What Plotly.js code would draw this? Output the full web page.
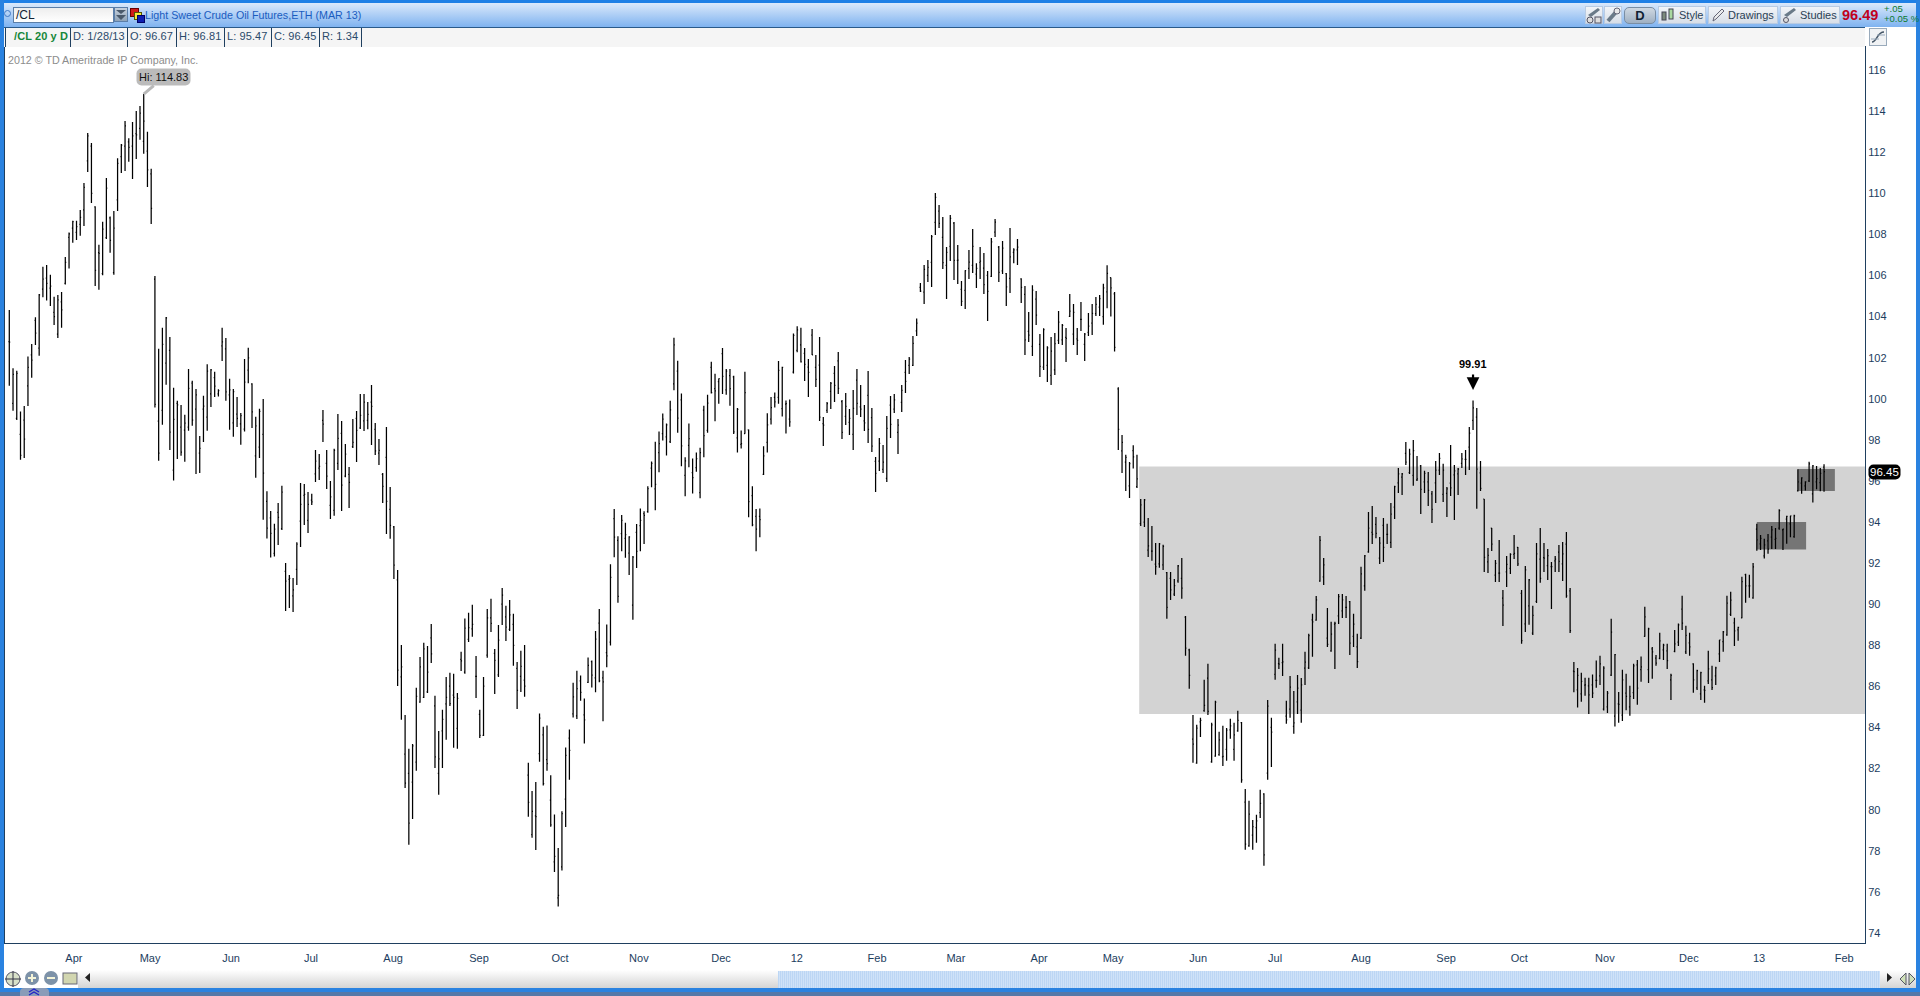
<!DOCTYPE html>
<html><head><meta charset="utf-8">
<script src="https://cdn.plot.ly/plotly-3.0.1.min.js"></script>
<style>
html,body{margin:0;padding:0;background:#fff;overflow:hidden;font-family:"Liberation Sans",Arial,sans-serif}
#chart{position:absolute;left:0;top:0;width:1920px;height:996px}
.c{position:absolute;white-space:nowrap;z-index:5}
.annotation rect.bg{rx:5px;ry:5px}
.cell{position:absolute;top:27px;height:19px;line-height:19px;font-size:11px;letter-spacing:0.1px;color:#2a4a6a;white-space:nowrap;z-index:5}
.btn{position:absolute;top:6px;height:18px;background:linear-gradient(#f4f6f9,#d6dde6);box-shadow:inset 0 0 0 1px #b9cbe2;z-index:5;font-size:11px;line-height:18px;color:#2a3f55}
</style></head><body>
<div id="chart"></div>
<!-- frame and toolbars -->
<div class="c" style="left:0;top:0;width:1920px;height:3px;background:#1f80e6"></div>
<div class="c" style="left:0;top:3px;width:1920px;height:24px;background:linear-gradient(#dbe9fb,#7fb3f0)"></div>
<div class="c" style="left:0;top:0;width:4px;height:992px;background:#2a82e0"></div>
<div class="c" style="left:1916px;top:0;width:4px;height:992px;background:#2a82e0"></div>
<div class="c" style="left:4px;top:27px;width:1861px;height:20px;background:#f5f5f5"></div>
<div class="c" style="left:5px;top:27px;width:1px;height:20px;background:#1f3f5f"></div>
<div class="c" style="left:4px;top:10px;width:5px;height:5px;border:1px solid #3f78c4;border-radius:50%"></div>
<div class="c" style="left:13px;top:7px;height:14px;border:1px solid #5b7ea8;background:linear-gradient(#eee,#fff);font-size:12px;line-height:14px;color:#123;padding-left:2px;box-sizing:content-box;width:97px">/CL</div>
<div class="c" style="left:114px;top:7px;width:14px;height:15px;background:linear-gradient(#c8d2de,#8fa3b8);border:1px solid #5b7ea8;box-sizing:border-box"></div>
<svg class="c" style="left:114px;top:8px" width="14" height="14"><path d="M2 2H12L7 6Z M2 7H12L7 12Z" fill="#4a5a6c"/></svg>
<div class="c" style="left:130px;top:8px;width:7px;height:7px;background:#d01818;border:1px solid #600"></div>
<div class="c" style="left:134px;top:12px;width:6px;height:6px;background:#f4e83a;border:1px solid #550"></div>
<div class="c" style="left:137px;top:15px;width:6px;height:6px;background:#1020b0;border:1px solid #006"></div>
<div class="c" style="left:145px;top:7px;font-size:10.7px;line-height:16px;color:#1a5cc0">Light Sweet Crude Oil Futures,ETH (MAR 13)</div>

<div class="cell" style="left:14px;font-weight:bold;color:#16873a">/CL 20 y D</div>
<div class="cell" style="left:73px">D: 1/28/13</div>
<div class="cell" style="left:130px">O: 96.67</div>
<div class="cell" style="left:179px">H: 96.81</div>
<div class="cell" style="left:227px">L: 95.47</div>
<div class="cell" style="left:274px">C: 96.45</div>
<div class="cell" style="left:322px">R: 1.34</div>
<div class="c" style="left:70px;top:27px;width:1px;height:20px;background:#1f3f5f"></div>
<div class="c" style="left:127px;top:27px;width:1px;height:20px;background:#1f3f5f"></div>
<div class="c" style="left:176px;top:27px;width:1px;height:20px;background:#1f3f5f"></div>
<div class="c" style="left:224px;top:27px;width:1px;height:20px;background:#1f3f5f"></div>
<div class="c" style="left:271px;top:27px;width:1px;height:20px;background:#1f3f5f"></div>
<div class="c" style="left:319px;top:27px;width:1px;height:20px;background:#1f3f5f"></div>
<div class="c" style="left:361px;top:27px;width:1px;height:20px;background:#1f3f5f"></div>
<div class="c" style="left:4px;top:27px;width:1861px;height:1px;background:#2a5a8a"></div>

<div class="btn" style="left:1585px;width:18px"></div>
<svg class="c" style="left:1585px;top:6px" width="18" height="18"><path d="M3 9L13 2L15 4L6 11Z" fill="#6a7a88"/><circle cx="5" cy="14" r="3" fill="#ddd" stroke="#556"/><rect x="10" y="11" width="6" height="6" fill="#ddd" stroke="#556"/></svg>
<div class="btn" style="left:1604px;width:18px"></div>
<svg class="c" style="left:1604px;top:6px" width="18" height="18"><path d="M4 15L12 6" stroke="#6a7a88" stroke-width="4"/><circle cx="13" cy="5" r="3" fill="#e8e8e8" stroke="#667"/></svg>
<div class="c" style="left:1624px;top:7px;height:15px;border-radius:5px;background:linear-gradient(#cfd8e2,#9fb0c2);border:1px solid #7a8ea4;text-align:center;font-size:13px;font-weight:bold;line-height:15px;color:#123;box-sizing:content-box;width:30px">D</div>
<div class="btn" style="left:1658px;width:48px;padding-left:21px;box-sizing:border-box">Style</div>
<svg class="c" style="left:1660px;top:7px" width="16" height="16"><rect x="2" y="5" width="4" height="8" fill="#7c8a7c" stroke="#445"/><rect x="9" y="2" width="4" height="10" fill="#a9d8a0" stroke="#445"/></svg>
<div class="btn" style="left:1708px;width:70px;padding-left:20px;box-sizing:border-box">Drawings</div>
<svg class="c" style="left:1710px;top:7px" width="16" height="16"><path d="M3 14L4 10L12 2L14 4L6 12Z" fill="#e8eaec" stroke="#667"/></svg>
<div class="btn" style="left:1780px;width:60px;padding-left:20px;box-sizing:border-box">Studies</div>
<svg class="c" style="left:1782px;top:7px" width="16" height="16"><path d="M2 8L12 1L14 3L5 10Z" fill="#6a7a88"/><circle cx="4" cy="13" r="2.5" fill="#ddd" stroke="#556"/></svg>
<div class="c" style="left:1842px;top:6px;font-size:14.5px;line-height:18px;font-weight:bold;color:#c00020">96.49</div>
<div class="c" style="left:1884px;top:4px;font-size:9.5px;line-height:10px;color:#0c7a30">+.05</div>
<div class="c" style="left:1884px;top:14px;font-size:9.5px;line-height:10px;color:#0c7a30">+0.05 %</div>

<div class="c" style="left:1869px;top:28px;width:16px;height:16px;border:1px solid #9ab;background:#f0f2f4"></div>
<svg class="c" style="left:1869px;top:28px" width="18" height="18"><path d="M3 14C8 14 8 4 15 4" fill="none" stroke="#456" stroke-width="1.5"/><path d="M2 11H10M8 7H16" stroke="#9ab"/></svg>

<!-- bottom bar -->
<div class="c" style="left:4px;top:970px;width:1912px;height:18px;background:linear-gradient(#fff,#d4d4d4)"></div>
<div class="c" style="left:778px;top:971px;width:1102px;height:17px;background:repeating-linear-gradient(90deg,#bcd6f4 0 1px,#cfe2f8 1px 2px)"></div>
<div class="c" style="left:4px;top:970px;width:74px;height:18px;background:#fff"></div>
<svg class="c" style="left:4px;top:970px" width="76" height="18"><circle cx="9" cy="9" r="7" fill="#d8e0c8" stroke="#556"/><path d="M9 1V17M1 9H17" stroke="#334"/><circle cx="28" cy="8" r="7" fill="#7d92a8"/><path d="M24 8H32M28 4V12" stroke="#f4f4d8" stroke-width="2"/><circle cx="47" cy="8" r="7" fill="#7d92a8"/><path d="M43 8H51" stroke="#f4f4d8" stroke-width="2"/><rect x="59" y="3" width="14" height="11" fill="#d2d6b0" stroke="#667"/></svg>
<svg class="c" style="left:82px;top:972px" width="12" height="12"><path d="M8 1V10L3 5.5Z" fill="#222"/></svg>
<svg class="c" style="left:1884px;top:972px" width="12" height="12"><path d="M3 1V10L8 5.5Z" fill="#222"/></svg>
<svg class="c" style="left:1899px;top:970px" width="17" height="18"><path d="M7 3V15L1 9ZM10 3V15L16 9Z" fill="#cfe0b8" stroke="#556"/></svg>
<div class="c" style="left:0;top:988px;width:1920px;height:4px;background:#2a82e0"></div>
<div class="c" style="left:0;top:992px;width:1920px;height:4px;background:#5578a8"></div>
<div class="c" style="left:20px;top:988px;width:29px;height:8px;background:#8a9cb8;border-radius:4px 4px 0 0"></div>
<svg class="c" style="left:28px;top:988px" width="12" height="8"><path d="M1 4L6 1L11 4M1 7L6 4L11 7" fill="none" stroke="#2222c8" stroke-width="1.3"/></svg>
<script>
const tickPos=[17.3,37.7,59.4,80.8,102.8,125.8,147.5,168.6,190.6,210.9,232.4,253.5,275.8,295.6,318.4,339,362,384.8,404.4,427.3,449.8,468.6,491.4];
const tickText=["Apr","May","Jun","Jul","Aug","Sep","Oct","Nov","Dec","12","Feb","Mar","Apr","May","Jun","Jul","Aug","Sep","Oct","Nov","Dec","13","Feb"];
const opens=[102.78,99.78,99.04,98.27,98.96,100.63,102.14,103.81,102.46,105.33,105.87,105.38,104.21,103.14,104.71,105.61,107.86,108.30,108.10,108.49,109.19,111.58,112.30,109.34,107.11,106.09,107.84,108.80,106.14,109.68,111.79,112.30,112.50,112.29,112.90,113.16,112.53,112.05,110.94,105.82,98.91,99.44,101.73,102.36,96.52,99.78,98.62,98.47,98.62,100.76,99.49,97.35,99.49,99.10,100.24,101.03,100.24,102.57,102.43,100.19,98.83,99.25,98.78,98.52,101.39,100.72,97.22,97.64,98.27,95.0,
94.2,92.48,94.47,93.68,91.60,91.21,90.40,91.70,94.04,95.30,94.08,95.06,96.34,96.62,98.95,96.86,94.81,94.57,96.86,98.32,96.23,96.32,97.67,99.05,98.58,98.92,98.95,99.83,98.51,97.35,96.32,97.15,94.62,93.76,91.18,86.46,82.70,81.77,81.34,82.31,85.23,85.47,85.73,88.36,85.05,81.77,83.83,85.15,86.01,85.57,83.96,87.32,86.70,88.29,88.80,86.49,84.64,83.62,87.52,89.33,87.61,86.56,90.00,89.38,88.78,89.02,86.88,86.49,86.30,81.68,78.79,79.70,
82.73,83.64,82.44,80.47,77.46,75.71,77.22,80.51,83.48,84.66,84.56,86.27,84.61,86.20,87.20,86.42,89.08,86.42,87.64,88.15,94.17,93.11,93.44,93.20,92.49,89.96,93.50,93.82,94.41,94.50,96.62,95.61,97.38,98.30,98.15,97.91,100.72,101.34,99.94,96.27,97.73,96.40,96.65,95.43,99.45,98.46,101.53,100.49,100.83,102.20,100.43,101.12,101.07,98.10,97.78,98.30,98.48,95.28,94.28,94.28,96.32,97.88,99.01,100.07,100.07,99.52,99.74,99.01,101.29,102.35,102.62,
102.21,101.54,103.10,101.53,101.64,98.79,99.44,100.36,101.24,101.84,99.86,99.14,98.85,98.27,100.91,99.60,98.92,100.17,99.08,96.95,96.97,96.56,96.13,99.69,99.50,98.36,99.82,101.28,101.63,101.63,103.30,105.42,105.19,106.00,106.64,108.58,109.13,107.85,106.49,107.42,108.55,106.73,105.32,105.27,106.35,106.49,106.07,106.64,106.36,106.00,105.96,108.11,107.38,106.22,106.09,105.86,107.12,107.24,105.83,105.08,103.28,102.55,104.85,102.65,101.54,101.63,101.14,101.40,102.84,102.87,102.99,104.01,103.15,102.91,103.86,102.65,103.23,103.68,104.14,104.46,
104.0,105.2,105.9,105.1,
100.48,97.46,96.92,95.76,97.48,95.72,93.92,94.00,92.63,92.58,91.95,91.96,91.91,91.54,91.26,90.49,91.13,91.26,89.37,87.78,83.43,82.26,84.27,84.82,86.40,82.33,82.60,82.68,82.57,82.94,83.88,82.94,83.84,84.24,80.37,78.24,78.76,79.12,79.86,80.77,81.78,84.01,86.59,87.11,87.16,84.55,84.89,84.05,85.25,84.84,86.89,86.90,89.24,89.22,91.12,91.33,88.35,87.73,89.03,89.43,89.67,89.85,90.13,88.44,87.92,88.35,90.89,92.55,
93.50,93.89,92.24,93.84,93.40,93.01,94.72,95.90,96.18,97.34,96.40,96.27,96.05,96.73,95.95,95.95,95.37,95.90,96.53,95.35,95.40,95.89,96.29,96.34,96.86,97.05,97.64,98.95,99.10,96.39,95.11,92.06,93.70,91.41,91.51,90.29,91.57,91.75,92.43,92.77,90.53,89.04,89.92,88.59,90.14,92.20,92.27,91.88,91.83,92.11,92.53,91.96,92.92,90.65,
86.74,85.83,85.64,86.06,86.03,86.07,86.29,86.51,84.89,85.00,86.55,84.55,85.15,84.60,85.67,85.00,85.70,87.05,86.81,88.44,86.81,87.83,87.37,87.36,87.78,87.73,86.32,87.71,88.15,89.76,87.68,88.12,87.10,85.93,85.64,85.83,86.27,86.32,86.51,87.58,88.18,88.51,89.51,89.09,88.75,89.34,91.44,90.89,90.31,93.65,92.94,92.35,93.08,93.26,93.16,93.70,93.62,94.14,93.91,93.29,95.51,95.89,95.76,96.00,95.37,95.95,95.92,96.67];
const highs=[104.32,101.49,101.36,99.38,99.65,102.05,102.67,103.97,105.10,106.43,106.51,106.03,104.97,105.05,105.20,106.90,108.09,108.66,108.66,109.19,110.50,112.94,112.45,109.37,107.49,108.61,110.75,108.87,109.14,111.70,112.40,113.52,112.68,113.47,114.01,114.25,114.83,112.99,111.19,105.98,102.43,103.45,103.98,103.01,100.53,99.90,99.70,99.22,101.45,100.87,100.48,98.19,100.14,101.68,101.45,101.31,100.46,103.45,102.96,100.97,100.48,100.09,99.31,101.94,102.48,100.76,99.12,99.51,99.99,95.5,
94.54,93.91,94.93,95.76,92.01,91.42,91.28,93.01,95.90,95.85,95.46,95.37,97.51,97.31,99.45,97.51,96.00,97.56,99.26,98.92,97.80,96.68,99.02,99.40,100.23,100.23,99.84,100.67,98.82,98.04,96.39,98.63,95.71,93.81,91.67,88.02,84.61,82.96,83.20,85.93,87.43,88.12,87.97,89.04,85.54,83.83,84.86,86.46,86.66,86.61,85.68,87.68,89.30,89.58,89.97,87.48,84.86,86.46,89.77,90.26,87.82,88.99,90.79,89.92,90.21,89.53,87.19,87.73,88.02,82.28,80.91,81.35,
84.68,84.03,84.10,81.67,79.77,78.13,79.92,83.02,83.90,86.18,86.76,86.53,85.41,87.40,87.26,88.70,89.77,86.76,89.01,91.95,94.63,93.31,94.34,93.97,93.31,92.35,93.90,94.66,94.52,95.74,96.95,97.91,98.40,99.28,98.79,99.90,102.97,101.85,100.25,97.15,98.79,97.09,97.38,97.62,99.66,100.19,101.80,101.22,100.98,102.47,101.45,101.45,101.12,99.55,98.46,101.31,98.50,95.74,94.63,94.66,97.69,99.30,100.08,100.30,101.84,101.56,99.92,99.96,103.17,103.53,103.45,
102.47,101.93,103.39,102.13,103.00,99.11,99.84,100.81,101.59,102.27,99.94,100.28,99.50,100.42,101.45,100.67,99.69,101.35,99.55,97.16,98.09,97.75,99.16,100.13,100.23,99.01,100.67,101.88,102.03,103.05,103.91,105.63,106.51,106.75,107.97,110.01,109.43,108.84,107.38,108.94,108.60,107.48,105.73,106.26,107.24,108.26,106.60,107.38,107.09,106.22,107.82,108.75,107.43,107.68,106.12,108.31,107.33,107.77,105.87,105.49,104.22,105.53,105.24,103.15,103.43,102.55,103.00,103.20,104.27,103.64,103.44,105.10,104.61,103.44,104.71,103.20,104.17,104.61,104.95,105.05,
105.6,106.5,105.9,105.2,
100.56,98.24,97.27,96.92,97.74,97.27,95.12,95.12,94.20,93.81,92.98,92.98,92.89,91.57,91.57,91.23,91.91,92.25,89.43,87.83,84.61,84.13,84.47,86.32,87.10,84.23,85.30,83.79,84.08,83.98,84.42,84.23,84.81,84.27,81.01,80.43,79.50,79.75,80.97,80.80,85.34,84.47,88.07,87.39,88.07,85.30,86.51,85.78,86.56,86.41,87.68,88.56,89.53,90.40,93.32,92.25,89.82,89.14,89.14,90.50,90.50,90.40,90.16,89.53,88.56,91.82,92.40,94.49,
94.78,94.25,93.27,94.20,93.91,94.93,95.76,96.63,96.39,97.90,97.56,97.99,97.21,96.78,96.49,96.44,95.51,96.97,97.36,96.83,95.71,97.75,96.78,96.63,97.36,97.51,98.63,99.91,99.55,96.97,95.12,92.74,93.71,92.15,93.13,90.69,92.35,92.48,93.37,92.79,90.69,91.86,91.23,89.92,92.98,93.71,92.98,92.69,92.06,92.35,92.88,93.03,93.52,90.79,
87.19,86.89,86.66,86.42,86.42,86.58,87.26,87.49,86.98,85.77,89.29,87.58,85.73,86.81,86.61,86.03,87.10,87.29,87.45,89.87,88.85,87.92,87.53,88.61,88.07,88.07,86.61,88.75,89.06,90.41,88.95,88.61,87.13,86.81,86.71,86.03,87.73,87.00,86.95,88.26,88.70,90.41,90.60,89.34,88.90,91.33,91.48,91.43,92.01,93.91,93.37,93.18,93.42,93.81,93.71,94.62,93.67,94.30,94.30,94.35,96.57,96.18,95.99,96.93,96.78,96.73,96.63,96.81];
const lows=[100.63,99.41,98.97,97.03,97.12,99.65,101.02,102.62,102.09,104.94,104.78,104.52,103.59,102.96,103.45,105.56,106.34,107.59,107.73,107.93,108.41,111.04,109.53,105.49,105.30,106.01,107.78,107.10,106.03,109.14,110.99,111.09,111.53,110.70,111.67,112.60,111.92,110.31,108.51,99.57,96.98,98.73,100.68,97.51,96.02,97.07,97.22,96.93,98.44,98.68,96.34,96.39,97.90,98.44,99.60,100.09,100.11,101.84,99.90,98.49,98.15,98.63,97.76,98.40,100.76,98.58,96.15,97.12,94.11,93.2,
92.27,92.32,92.88,93.61,89.67,89.82,89.62,90.94,92.79,93.86,93.47,94.83,95.95,96.05,97.90,95.61,94.15,94.30,96.53,94.54,96.18,94.68,97.60,96.92,98.53,98.43,98.51,97.75,97.26,96.78,94.93,93.42,93.18,91.23,86.02,84.37,81.06,78.29,79.55,81.89,85.20,85.44,85.68,87.14,82.03,80.72,82.03,83.40,85.05,83.01,82.96,86.75,86.61,88.16,88.41,85.44,83.49,83.59,87.39,88.65,85.63,86.46,88.99,88.21,88.70,87.00,84.90,85.73,85.49,79.65,78.63,78.04,
82.33,81.18,81.89,79.17,76.96,75.29,77.04,79.15,81.45,84.48,84.41,85.30,83.22,86.16,85.94,85.72,86.20,84.30,86.93,87.99,92.29,90.07,92.58,92.26,91.42,89.24,91.76,92.58,92.93,94.45,95.69,94.57,96.42,97.97,97.24,97.84,100.41,98.35,96.71,95.25,96.67,95.39,96.45,95.16,97.15,98.35,100.25,98.90,99.76,100.23,100.19,99.66,98.28,97.38,97.58,98.30,94.23,93.79,92.58,93.26,96.29,97.38,98.75,99.57,99.76,99.14,98.31,98.64,101.23,102.26,101.76,
100.86,100.08,102.13,100.57,98.92,97.70,99.31,99.50,99.84,100.23,98.04,98.72,98.23,97.51,99.21,99.11,98.43,97.85,97.41,95.46,96.48,96.39,95.95,98.09,99.31,97.31,99.35,100.28,101.20,101.59,103.05,105.19,104.61,105.68,105.44,107.97,108.31,106.31,104.85,106.70,105.78,105.58,104.51,104.37,105.83,106.12,105.39,105.83,105.10,103.78,105.92,107.87,105.68,106.07,104.51,105.15,106.60,106.51,104.66,102.13,102.76,102.08,103.59,101.06,101.40,100.81,100.67,101.15,102.66,102.61,101.79,103.98,102.61,102.13,103.30,101.84,103.05,103.10,104.03,104.03,
103.6,104.4,104.0,102.3,
97.51,96.39,95.51,95.17,96.60,95.66,93.81,93.76,92.30,92.11,91.43,91.77,91.67,89.29,90.21,90.40,91.04,90.26,87.49,85.88,82.28,82.23,83.54,84.76,84.61,82.28,82.57,82.62,82.13,82.38,83.45,82.38,83.79,81.31,78.05,78.19,78.05,78.39,79.60,77.27,81.45,82.08,86.32,86.85,86.51,84.18,84.47,83.69,84.66,84.23,86.07,86.85,87.44,89.19,91.09,90.94,87.92,87.68,86.85,89.04,89.33,89.33,87.53,87.92,86.90,88.31,90.65,92.50,
92.93,93.21,91.96,92.06,92.93,92.74,94.15,95.41,95.32,96.78,96.34,95.76,96.00,94.39,95.41,94.78,93.95,94.93,96.29,94.98,94.25,95.27,94.10,95.32,96.63,96.29,96.53,98.48,94.64,95.51,91.57,91.52,92.59,91.08,91.08,88.94,90.84,91.47,92.20,91.86,88.07,88.65,89.00,88.50,90.06,91.04,91.57,91.18,89.77,91.57,91.57,91.13,90.31,88.60,
85.72,84.97,85.25,85.54,84.66,85.44,85.93,86.07,84.83,84.71,86.51,84.05,84.23,84.32,84.84,84.57,85.39,85.10,86.22,88.41,86.17,86.37,87.00,87.32,87.29,86.85,85.34,87.66,87.96,88.75,87.58,87.49,85.69,85.83,85.34,85.20,86.12,85.83,86.07,87.19,87.68,88.46,89.43,87.97,88.22,89.32,90.07,90.31,90.26,92.60,92.64,92.22,92.45,92.69,92.69,93.62,92.64,92.94,93.26,93.23,95.48,95.37,95.53,95.95,94.95,95.60,95.50,95.47];
const closes=[102.75,101.19,101.24,97.24,98.03,101.53,101.88,103.19,105.05,105.82,105.62,105.48,104.00,104.81,104.32,106.64,108.02,108.62,108.38,108.83,110.29,112.79,110.00,106.25,107.07,108.25,110.25,107.71,108.31,111.46,112.35,113.28,112.24,112.79,112.84,113.90,113.51,111.14,109.27,99.73,97.35,102.65,103.94,98.37,99.00,99.70,97.40,98.81,100.51,98.96,100.19,97.59,99.64,101.34,101.41,100.61,100.40,102.77,100.33,100.43,100.35,99.05,99.18,100.81,101.99,99.36,98.68,99.39,96.38,93.7,
93.45,93.65,94.23,95.46,91.12,91.26,90.70,92.93,94.86,95.35,94.86,94.98,96.97,96.71,98.76,96.23,95.22,97.49,98.07,95.79,97.30,95.93,97.88,98.46,99.19,99.83,99.24,99.63,97.46,97.49,95.74,95.01,93.84,91.90,86.79,86.95,81.29,79.34,83.10,85.52,86.95,87.82,86.69,87.58,82.57,82.47,84.40,85.47,85.16,85.47,85.42,87.24,88.83,88.86,89.02,86.49,83.61,86.01,89.33,89.07,87.27,88.25,90.44,88.89,89.48,88.00,85.81,86.98,86.01,80.36,79.92,79.66,
84.46,81.27,82.24,79.26,77.73,75.83,79.81,82.64,82.88,85.49,85.89,85.71,84.37,87.02,86.55,88.30,86.27,86.22,87.48,91.31,93.26,90.38,94.08,93.39,93.28,92.29,92.57,94.08,94.32,95.63,96.85,95.83,97.82,99.01,98.73,99.46,102.62,99.06,97.71,96.98,98.06,96.16,97.09,97.38,98.20,99.79,100.30,100.38,100.98,101.09,101.34,100.49,98.39,99.48,97.82,100.30,94.99,93.86,93.66,94.12,97.22,98.73,99.57,99.85,101.38,101.53,99.76,98.88,103.08,103.35,101.80,
101.67,101.28,102.14,100.94,99.11,98.72,99.76,100.75,100.65,100.51,98.36,99.63,99.05,99.53,99.78,99.50,98.82,98.51,97.70,96.37,97.83,96.92,98.56,98.75,99.95,98.72,100.41,100.85,101.93,102.70,103.68,105.24,106.30,106.39,107.89,109.80,108.53,106.62,107.12,108.78,106.73,106.75,104.74,106.23,106.65,107.42,106.35,106.70,105.55,105.23,107.63,108.60,106.15,107.33,105.44,106.90,107.24,107.38,105.42,102.86,103.10,105.29,104.07,101.58,103.36,102.48,102.32,102.68,103.73,103.57,102.94,104.27,104.20,102.84,103.86,103.15,103.54,104.16,104.59,104.87,
105.4,106.1,105.4,102.5,
98.51,97.88,97.15,96.84,97.17,96.10,94.83,95.08,92.84,92.58,91.83,92.94,92.82,89.85,90.70,90.91,91.86,90.78,87.86,86.54,83.19,83.97,84.35,85.08,84.78,84.13,85.23,83.40,82.59,83.87,84.08,83.64,84.34,81.45,78.32,79.78,79.18,79.46,80.31,77.80,85.04,83.77,87.76,87.08,87.19,84.37,85.96,84.23,85.91,86.07,87.18,88.47,89.14,90.21,93.11,91.91,88.05,88.54,89.07,90.37,90.21,89.85,88.10,89.03,87.21,91.48,92.35,93.70,
93.40,93.45,92.97,92.77,93.40,94.38,95.72,96.34,96.34,96.91,97.30,97.47,96.10,95.59,96.37,95.54,94.62,96.53,97.10,96.53,95.61,95.66,96.49,96.58,97.07,97.05,98.33,99.55,96.58,95.64,92.28,92.38,92.92,91.99,91.51,89.96,91.94,92.43,92.48,91.96,88.23,91.67,91.18,89.46,92.45,91.26,92.24,92.37,91.83,92.19,92.09,92.45,90.40,88.72,
86.72,86.54,86.25,86.07,85.59,85.67,86.29,87.10,86.89,85.67,88.64,87.55,85.13,86.32,85.51,85.51,87.00,85.91,86.95,89.38,88.80,87.68,87.13,88.22,88.01,87.26,86.53,88.07,89.00,89.08,88.48,87.92,86.32,86.77,86.67,85.80,86.85,85.94,86.90,88.26,88.65,90.05,90.20,88.70,88.87,91.10,90.89,90.89,91.82,93.13,93.20,92.89,92.68,93.62,93.21,94.56,93.65,94.27,94.30,94.30,95.95,96.15,95.95,96.83,96.73,96.11,96.37,96.45];
// shaded zones: [first bar, last bar, lower price, upper price]
const zoneX0=[302.6,468,479];
const zoneX1=[497,481.2,488.9];
const zoneLow=[84.65,92.66,95.51];
const zoneHigh=[96.70,94.0,96.58];
const zoneColor=["#d3d3d3","#757575","#757575"];
const lineInk="#1f3f5f", tickInk="#1c3d5e";
const barIndex=opens.map((_,i)=>i);

const trace={type:"ohlc",x:barIndex,open:opens,high:highs,low:lows,close:closes,
  increasing:{line:{color:"#000",width:1.25}},decreasing:{line:{color:"#000",width:1.25}},
  tickwidth:0.25,hoverinfo:"skip",showlegend:false};
const layout={width:1920,height:996,autosize:false,margin:{l:5,r:55,t:47,b:53,pad:0},
  paper_bgcolor:"rgba(255,255,255,1)",plot_bgcolor:"#fff",showlegend:false,
  font:{family:'"Liberation Sans",Arial,sans-serif',size:11,color:tickInk},
  xaxis:{range:[-1.15,496.97],tickmode:"array",tickvals:tickPos,ticktext:tickText,showgrid:false,zeroline:false,
    ticks:"",showline:true,mirror:true,linecolor:lineInk,linewidth:1,rangeslider:{visible:false},
    tickfont:{size:11,color:tickInk},automargin:false,ticklabelstandoff:5},
  yaxis:{range:[73.51,117.12],side:"right",tick0:74,dtick:2,showgrid:false,zeroline:false,ticks:"",
    showline:true,mirror:true,linecolor:lineInk,linewidth:1,tickfont:{size:11,color:tickInk},automargin:false},
  shapes:zoneX0.map((x,i)=>({type:"rect",layer:"below",xref:"x",yref:"y",x0:x,x1:zoneX1[i],y0:zoneLow[i],y1:zoneHigh[i],
    fillcolor:zoneColor[i],line:{width:0}})),
  annotations:[
   {xref:"paper",yref:"paper",x:0.0008,y:0.9855,xanchor:"left",yanchor:"middle",showarrow:false,
    text:"2012 © TD Ameritrade IP Company, Inc.",font:{size:10.7,color:"#8c8c8c"}},
   {xref:"x",yref:"y",x:36,y:114.83,ax:20,ay:-17,text:"Hi: 114.83",showarrow:true,arrowhead:0,arrowwidth:3,arrowcolor:"#b8b8b8",
    bgcolor:"#bbbbbb",borderpad:2,font:{size:11,color:"#111"}},
   {xref:"x",yref:"y",x:392,y:101.69,text:"<b>99.91</b>",showarrow:false,font:{size:11,color:"#000"}},
   {xref:"x",yref:"y",x:392,y:100.43,ax:0,ay:-17,text:"",showarrow:true,arrowhead:2,arrowsize:1.15,arrowwidth:2.2,arrowcolor:"#000"},
   {xref:"paper",yref:"y",x:1.0016,y:96.45,xanchor:"left",yanchor:"middle",text:"96.45",showarrow:false,
    bgcolor:"#000",borderpad:1,font:{size:11.5,color:"#fff"}}
  ]};
Plotly.newPlot("chart",[trace],layout,{displayModeBar:false,staticPlot:true,responsive:false});
</script>
</body></html>
